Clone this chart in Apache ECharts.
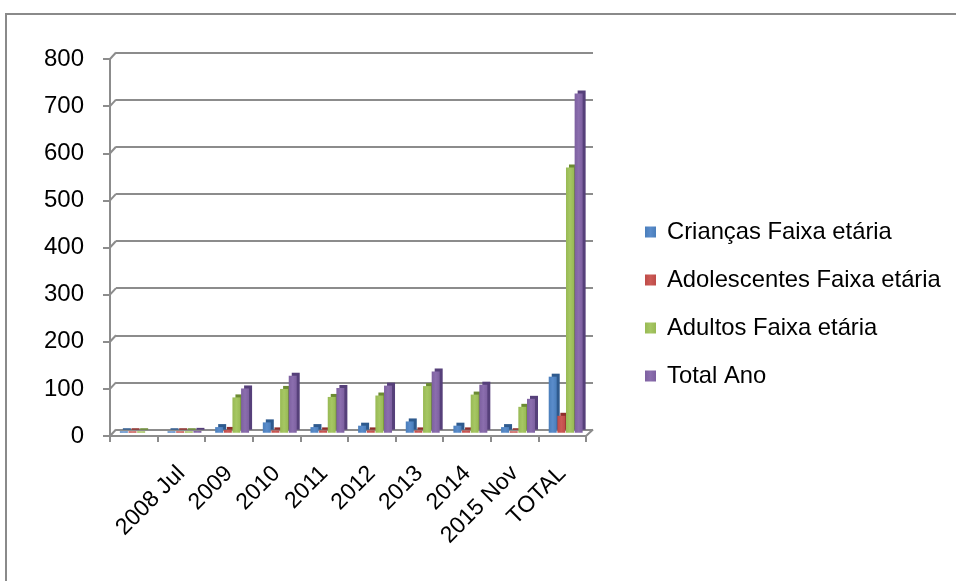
<!DOCTYPE html>
<html>
<head>
<meta charset="utf-8">
<script src="https://cdn.jsdelivr.net/npm/echarts@6/dist/echarts.min.js"></script>
<style>
html,body{margin:0;padding:0;background:#fff;}
#c{width:956px;height:581px;}
</style>
</head>
<body>
<div id="c"></div>
<script>
const categories = ['', '2008 Jul', '2009', '2010', '2011', '2012', '2013', '2014', '2015 Nov', 'TOTAL'];
const criancas = [0, 2, 12, 22, 12, 15, 24, 15, 12, 119];
const adolescentes = [0, 1, 6, 5, 5, 5, 5, 5, 3, 36];
const adultos = [0, 2, 75, 93, 76, 79, 99, 81, 55, 563];
const totalAno = [null, 4, 94, 121, 95, 100, 130, 102, 72, 720];
const yTicks = [0, 100, 200, 300, 400, 500, 600, 700, 800];

const seriesNames = ['Crianças Faixa etária', 'Adolescentes Faixa etária', 'Adultos Faixa etária', 'Total Ano'];
const seriesData = [criancas, adolescentes, adultos, totalAno];
const colors = ['#4A7EBB', '#BE4B48', '#98B954', '#7D60A0'];
const lightColors = ['#5A8CCB', '#CC5A56', '#A6C763', '#8B6EAE'];
const darkColors = ['#2E5A8E', '#8E2E2B', '#6B8A32', '#56407A'];

const FONT = 'Liberation Sans';
const GRAY = '#8C8C8C';
const DX = 6, DY = 6.5;

const chart = echarts.init(document.getElementById('c'));

const barSeries = seriesNames.map((name, i) => ({
  name: name,
  type: 'bar',
  xAxisIndex: 2,
  yAxisIndex: 2,
  data: seriesData[i],
  barWidth: 8,
  barGap: '8%',
  barMinHeight: 1.5,
  itemStyle: {
    color: new echarts.graphic.LinearGradient(0, 0, 1, 0, [
      { offset: 0, color: colors[i] },
      { offset: 0.5, color: lightColors[i] },
      { offset: 1, color: colors[i] }
    ]),
    shadowColor: darkColors[i],
    shadowOffsetX: 3,
    shadowOffsetY: -3,
    shadowBlur: 0
  },
  emphasis: { disabled: true },
  silent: true
}));

const connectorSeries = {
  type: 'custom',
  xAxisIndex: 0,
  yAxisIndex: 0,
  silent: true,
  data: yTicks.map(v => [0, v]),
  renderItem: function (params, api) {
    const cs = params.coordSys;
    const v = api.value(1);
    const p = api.coord([0, v]);
    const y = p[1];
    const children = [{
      type: 'line',
      shape: { x1: cs.x, y1: y, x2: cs.x + DX, y2: y - DY },
      style: { stroke: GRAY, lineWidth: 2 }
    }];
    if (v === 0) {
      children.push({
        type: 'line',
        shape: { x1: cs.x + cs.width, y1: y, x2: cs.x + cs.width + DX + 1, y2: y - DY },
        style: { stroke: GRAY, lineWidth: 2 }
      });
    }
    return { type: 'group', children: children };
  }
};

const option = {
  animation: false,
  backgroundColor: '#ffffff',
  graphic: [{
    type: 'rect',
    shape: { x: 6, y: 14, width: 1200, height: 1000 },
    style: { fill: 'none', stroke: '#8A8A8A', lineWidth: 2 },
    silent: true
  }],
  legend: {
    orient: 'vertical',
    left: 645,
    top: 220,
    padding: 0,
    itemWidth: 11,
    itemHeight: 11,
    itemGap: 24,
    icon: 'rect',
    data: seriesNames,
    selectedMode: false,
    textStyle: { fontFamily: FONT, fontSize: 23.8, lineHeight: 24, color: '#000', padding: [0, 0, 0, 6] }
  },
  grid: [
    { left: 110, right: 370, top: 59, bottom: 145 },
    { left: 110 + DX, right: 370 - DX - 1, top: 59 - DY, bottom: 145 + DY },
    { left: 110 + DX / 2, right: 370 - DX / 2 - 0.5, top: 59 - DY / 2, bottom: 145 + DY / 2 }
  ],
  xAxis: [
    {
      gridIndex: 0,
      type: 'category',
      data: categories,
      axisLine: { lineStyle: { color: GRAY, width: 2 } },
      axisTick: { show: true, length: 6, lineStyle: { color: GRAY, width: 2 } },
      axisLabel: { rotate: 45, margin: 34, interval: 0, fontFamily: FONT, fontSize: 23, color: '#000' },
      splitLine: { show: false }
    },
    { gridIndex: 1, type: 'category', data: categories, show: false },
    { gridIndex: 2, type: 'category', data: categories, show: false }
  ],
  yAxis: [
    {
      gridIndex: 0,
      type: 'value',
      min: 0, max: 800, interval: 100,
      axisLine: { show: true, lineStyle: { color: GRAY, width: 2 } },
      axisTick: { show: true, length: 7, lineStyle: { color: GRAY, width: 2 } },
      axisLabel: { margin: 26, fontFamily: FONT, fontSize: 24, color: '#000' },
      splitLine: { show: false }
    },
    {
      gridIndex: 1,
      type: 'value',
      min: 0, max: 800, interval: 100,
      axisLine: { show: false },
      axisTick: { show: false },
      axisLabel: { show: false },
      splitLine: { show: true, lineStyle: { color: GRAY, width: 2 } }
    },
    {
      gridIndex: 2,
      type: 'value',
      min: 0, max: 800, interval: 100,
      show: false,
      splitLine: { show: false }
    }
  ],
  series: [connectorSeries].concat(barSeries)
};

chart.setOption(option);
</script>
</body>
</html>
